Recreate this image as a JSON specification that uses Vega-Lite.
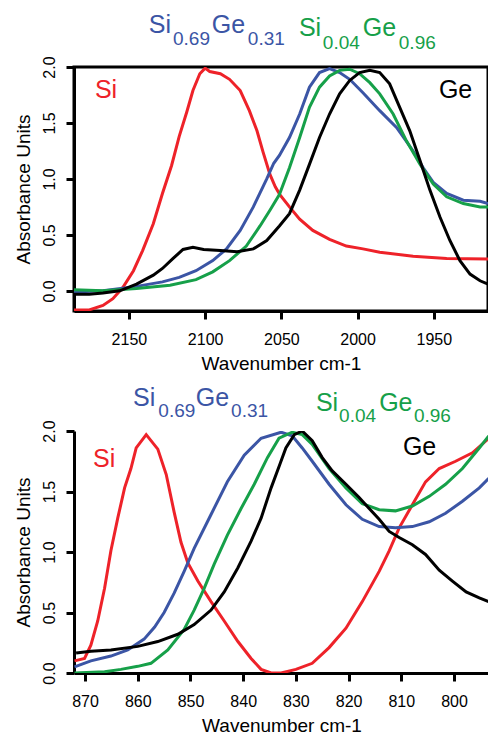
{
  "$schema": "https://vega.github.io/schema/vega-lite/v6.json",
  "padding": {"left": 12, "top": 11, "right": 0, "bottom": 0},
  "spacing": 10,
  "background": "white",
  "config": {
    "view": {"stroke": null},
    "font": "Liberation Sans",
    "axis": {
      "grid": false,
      "domain": true,
      "domainColor": "black",
      "domainWidth": 3,
      "tickColor": "black",
      "tickWidth": 3,
      "tickSize": 8,
      "labelFont": "Liberation Sans",
      "labelFontSize": 16,
      "labelColor": "black",
      "titleFont": "Liberation Sans",
      "titleFontSize": 19,
      "titleFontWeight": "normal",
      "titleColor": "black"
    },
    "axisX": {"labelPadding": 12, "titlePadding": 7},
    "axisY": {"labelAngle": 270, "labelAlign": "center", "labelBaseline": "alphabetic", "labelPadding": 12, "titlePadding": 8}
  },
  "datasets": {
    "top": [
      {"s": "Si", "w": 2186, "a": -0.17}, {"s": "Si", "w": 2176, "a": -0.17}, {"s": "Si", "w": 2167, "a": -0.13}, {"s": "Si", "w": 2160.5, "a": -0.07}, {"s": "Si", "w": 2154, "a": 0.03}, {"s": "Si", "w": 2147, "a": 0.18}, {"s": "Si", "w": 2141, "a": 0.36}, {"s": "Si", "w": 2134, "a": 0.6}, {"s": "Si", "w": 2128, "a": 0.87}, {"s": "Si", "w": 2122, "a": 1.12}, {"s": "Si", "w": 2117, "a": 1.38}, {"s": "Si", "w": 2112, "a": 1.6}, {"s": "Si", "w": 2108, "a": 1.79}, {"s": "Si", "w": 2103.5, "a": 1.94}, {"s": "Si", "w": 2100, "a": 1.99}, {"s": "Si", "w": 2097, "a": 1.96}, {"s": "Si", "w": 2090, "a": 1.94}, {"s": "Si", "w": 2084, "a": 1.89}, {"s": "Si", "w": 2077, "a": 1.79}, {"s": "Si", "w": 2071, "a": 1.61}, {"s": "Si", "w": 2066, "a": 1.43}, {"s": "Si", "w": 2062, "a": 1.24}, {"s": "Si", "w": 2057.5, "a": 1.04}, {"s": "Si", "w": 2054, "a": 0.93}, {"s": "Si", "w": 2051, "a": 0.86}, {"s": "Si", "w": 2044.7, "a": 0.75}, {"s": "Si", "w": 2038, "a": 0.64}, {"s": "Si", "w": 2029.4, "a": 0.54}, {"s": "Si", "w": 2018.4, "a": 0.46}, {"s": "Si", "w": 2007.4, "a": 0.4}, {"s": "Si", "w": 1996.5, "a": 0.375}, {"s": "Si", "w": 1985.5, "a": 0.345}, {"s": "Si", "w": 1963.6, "a": 0.31}, {"s": "Si", "w": 1941.6, "a": 0.29}, {"s": "Si", "w": 1914.5, "a": 0.285},
      {"s": "SiGe69", "w": 2186, "a": -0.01}, {"s": "SiGe69", "w": 2167, "a": 0.0}, {"s": "SiGe69", "w": 2145, "a": 0.04}, {"s": "SiGe69", "w": 2128, "a": 0.08}, {"s": "SiGe69", "w": 2117, "a": 0.12}, {"s": "SiGe69", "w": 2106, "a": 0.18}, {"s": "SiGe69", "w": 2095, "a": 0.27}, {"s": "SiGe69", "w": 2086, "a": 0.375}, {"s": "SiGe69", "w": 2077, "a": 0.54}, {"s": "SiGe69", "w": 2068.4, "a": 0.75}, {"s": "SiGe69", "w": 2059.6, "a": 1.0}, {"s": "SiGe69", "w": 2055, "a": 1.14}, {"s": "SiGe69", "w": 2051.3, "a": 1.21}, {"s": "SiGe69", "w": 2044.7, "a": 1.37}, {"s": "SiGe69", "w": 2038, "a": 1.58}, {"s": "SiGe69", "w": 2031.6, "a": 1.82}, {"s": "SiGe69", "w": 2025, "a": 1.95}, {"s": "SiGe69", "w": 2018.4, "a": 1.985}, {"s": "SiGe69", "w": 2011.8, "a": 1.95}, {"s": "SiGe69", "w": 2005.2, "a": 1.89}, {"s": "SiGe69", "w": 1996.5, "a": 1.77}, {"s": "SiGe69", "w": 1985.5, "a": 1.61}, {"s": "SiGe69", "w": 1974.5, "a": 1.46}, {"s": "SiGe69", "w": 1963.6, "a": 1.25}, {"s": "SiGe69", "w": 1957, "a": 1.1}, {"s": "SiGe69", "w": 1950.4, "a": 0.97}, {"s": "SiGe69", "w": 1941.6, "a": 0.87}, {"s": "SiGe69", "w": 1930.7, "a": 0.81}, {"s": "SiGe69", "w": 1919.7, "a": 0.8}, {"s": "SiGe69", "w": 1914.5, "a": 0.78},
      {"s": "SiGe04", "w": 2186, "a": 0.01}, {"s": "SiGe04", "w": 2167, "a": 0.0}, {"s": "SiGe04", "w": 2145, "a": 0.02}, {"s": "SiGe04", "w": 2123, "a": 0.05}, {"s": "SiGe04", "w": 2106, "a": 0.1}, {"s": "SiGe04", "w": 2095, "a": 0.17}, {"s": "SiGe04", "w": 2084, "a": 0.27}, {"s": "SiGe04", "w": 2073, "a": 0.4}, {"s": "SiGe04", "w": 2064, "a": 0.58}, {"s": "SiGe04", "w": 2057.5, "a": 0.72}, {"s": "SiGe04", "w": 2051.3, "a": 0.86}, {"s": "SiGe04", "w": 2044.7, "a": 1.1}, {"s": "SiGe04", "w": 2038, "a": 1.37}, {"s": "SiGe04", "w": 2031.6, "a": 1.64}, {"s": "SiGe04", "w": 2025, "a": 1.82}, {"s": "SiGe04", "w": 2018.4, "a": 1.92}, {"s": "SiGe04", "w": 2011.8, "a": 1.97}, {"s": "SiGe04", "w": 2005.2, "a": 1.98}, {"s": "SiGe04", "w": 1998.7, "a": 1.94}, {"s": "SiGe04", "w": 1992, "a": 1.86}, {"s": "SiGe04", "w": 1985.5, "a": 1.76}, {"s": "SiGe04", "w": 1976.7, "a": 1.58}, {"s": "SiGe04", "w": 1968, "a": 1.34}, {"s": "SiGe04", "w": 1959, "a": 1.13}, {"s": "SiGe04", "w": 1950.4, "a": 0.955}, {"s": "SiGe04", "w": 1941.6, "a": 0.84}, {"s": "SiGe04", "w": 1930.7, "a": 0.78}, {"s": "SiGe04", "w": 1919.7, "a": 0.75}, {"s": "SiGe04", "w": 1914.5, "a": 0.75},
      {"s": "Ge", "w": 2186, "a": -0.03}, {"s": "Ge", "w": 2176, "a": -0.03}, {"s": "Ge", "w": 2167, "a": -0.02}, {"s": "Ge", "w": 2156, "a": 0.0}, {"s": "Ge", "w": 2145, "a": 0.06}, {"s": "Ge", "w": 2134, "a": 0.14}, {"s": "Ge", "w": 2128, "a": 0.2}, {"s": "Ge", "w": 2121, "a": 0.29}, {"s": "Ge", "w": 2114.5, "a": 0.37}, {"s": "Ge", "w": 2108, "a": 0.39}, {"s": "Ge", "w": 2101, "a": 0.37}, {"s": "Ge", "w": 2090, "a": 0.36}, {"s": "Ge", "w": 2079, "a": 0.35}, {"s": "Ge", "w": 2068.4, "a": 0.375}, {"s": "Ge", "w": 2059.6, "a": 0.45}, {"s": "Ge", "w": 2051.3, "a": 0.58}, {"s": "Ge", "w": 2044.7, "a": 0.69}, {"s": "Ge", "w": 2038, "a": 0.9}, {"s": "Ge", "w": 2031.6, "a": 1.13}, {"s": "Ge", "w": 2025, "a": 1.37}, {"s": "Ge", "w": 2018.4, "a": 1.58}, {"s": "Ge", "w": 2011.8, "a": 1.76}, {"s": "Ge", "w": 2005.2, "a": 1.88}, {"s": "Ge", "w": 1998.7, "a": 1.95}, {"s": "Ge", "w": 1992, "a": 1.97}, {"s": "Ge", "w": 1985.5, "a": 1.95}, {"s": "Ge", "w": 1979, "a": 1.85}, {"s": "Ge", "w": 1972.4, "a": 1.64}, {"s": "Ge", "w": 1965.8, "a": 1.43}, {"s": "Ge", "w": 1959, "a": 1.16}, {"s": "Ge", "w": 1952.6, "a": 0.9}, {"s": "Ge", "w": 1946, "a": 0.66}, {"s": "Ge", "w": 1939.5, "a": 0.45}, {"s": "Ge", "w": 1932.9, "a": 0.27}, {"s": "Ge", "w": 1926.3, "a": 0.15}, {"s": "Ge", "w": 1919.7, "a": 0.09}, {"s": "Ge", "w": 1914.5, "a": 0.06}
    ],
    "topLabels": [
      {"s": "SiGe69", "part": "main", "t": "Si", "w": 2136.9, "a": 2.304},
      {"s": "SiGe69", "part": "sub", "t": "0.69", "w": 2121.1, "a": 2.2},
      {"s": "SiGe69", "part": "main", "t": "Ge", "w": 2095.6, "a": 2.304},
      {"s": "SiGe69", "part": "sub", "t": "0.31", "w": 2072.0, "a": 2.2},
      {"s": "SiGe04", "part": "main", "t": "Si", "w": 2038.5, "a": 2.277},
      {"s": "SiGe04", "part": "sub", "t": "0.04", "w": 2022.8, "a": 2.165},
      {"s": "SiGe04", "part": "main", "t": "Ge", "w": 1996.6, "a": 2.277},
      {"s": "SiGe04", "part": "sub", "t": "0.96", "w": 1973.0, "a": 2.165},
      {"s": "Si", "part": "main", "t": "Si", "w": 2172.3, "a": 1.72},
      {"s": "Ge", "part": "main", "t": "Ge", "w": 1946.7, "a": 1.72}
    ],
    "bottom": [
      {"s": "Si", "w": 872, "a": 0.1}, {"s": "Si", "w": 870.1, "a": 0.12}, {"s": "Si", "w": 868.9, "a": 0.23}, {"s": "Si", "w": 867.6, "a": 0.43}, {"s": "Si", "w": 866.3, "a": 0.7}, {"s": "Si", "w": 865.1, "a": 1.01}, {"s": "Si", "w": 863.8, "a": 1.28}, {"s": "Si", "w": 862.5, "a": 1.53}, {"s": "Si", "w": 861.3, "a": 1.69}, {"s": "Si", "w": 860.3, "a": 1.86}, {"s": "Si", "w": 858.4, "a": 1.97}, {"s": "Si", "w": 856.2, "a": 1.85}, {"s": "Si", "w": 854.6, "a": 1.64}, {"s": "Si", "w": 853.1, "a": 1.33}, {"s": "Si", "w": 851.8, "a": 1.08}, {"s": "Si", "w": 850.5, "a": 0.91}, {"s": "Si", "w": 848.6, "a": 0.76}, {"s": "Si", "w": 846.1, "a": 0.59}, {"s": "Si", "w": 843.6, "a": 0.43}, {"s": "Si", "w": 841.0, "a": 0.26}, {"s": "Si", "w": 838.5, "a": 0.12}, {"s": "Si", "w": 836.6, "a": 0.03}, {"s": "Si", "w": 834.7, "a": 0.0}, {"s": "Si", "w": 832.8, "a": 0.0}, {"s": "Si", "w": 830, "a": 0.03}, {"s": "Si", "w": 826.9, "a": 0.08}, {"s": "Si", "w": 823.7, "a": 0.21}, {"s": "Si", "w": 820.5, "a": 0.37}, {"s": "Si", "w": 817.4, "a": 0.59}, {"s": "Si", "w": 814.2, "a": 0.84}, {"s": "Si", "w": 812.3, "a": 1.01}, {"s": "Si", "w": 810.4, "a": 1.2}, {"s": "Si", "w": 807.9, "a": 1.39}, {"s": "Si", "w": 805.4, "a": 1.58}, {"s": "Si", "w": 802.8, "a": 1.69}, {"s": "Si", "w": 799.7, "a": 1.75}, {"s": "Si", "w": 796.5, "a": 1.82}, {"s": "Si", "w": 793.4, "a": 1.94},
      {"s": "SiGe69", "w": 872, "a": 0.05}, {"s": "SiGe69", "w": 868.9, "a": 0.1}, {"s": "SiGe69", "w": 865.1, "a": 0.14}, {"s": "SiGe69", "w": 861.9, "a": 0.19}, {"s": "SiGe69", "w": 858.8, "a": 0.28}, {"s": "SiGe69", "w": 856.8, "a": 0.38}, {"s": "SiGe69", "w": 855.0, "a": 0.5}, {"s": "SiGe69", "w": 853.1, "a": 0.66}, {"s": "SiGe69", "w": 851.2, "a": 0.84}, {"s": "SiGe69", "w": 849.3, "a": 1.03}, {"s": "SiGe69", "w": 846.1, "a": 1.31}, {"s": "SiGe69", "w": 843.0, "a": 1.58}, {"s": "SiGe69", "w": 839.8, "a": 1.8}, {"s": "SiGe69", "w": 836.6, "a": 1.94}, {"s": "SiGe69", "w": 832.8, "a": 1.99}, {"s": "SiGe69", "w": 830.7, "a": 1.96}, {"s": "SiGe69", "w": 828.8, "a": 1.86}, {"s": "SiGe69", "w": 826.9, "a": 1.75}, {"s": "SiGe69", "w": 823.7, "a": 1.56}, {"s": "SiGe69", "w": 820.5, "a": 1.39}, {"s": "SiGe69", "w": 817.4, "a": 1.27}, {"s": "SiGe69", "w": 814.2, "a": 1.21}, {"s": "SiGe69", "w": 811.1, "a": 1.2}, {"s": "SiGe69", "w": 807.9, "a": 1.21}, {"s": "SiGe69", "w": 804.7, "a": 1.25}, {"s": "SiGe69", "w": 801.6, "a": 1.32}, {"s": "SiGe69", "w": 798.4, "a": 1.42}, {"s": "SiGe69", "w": 795.2, "a": 1.53}, {"s": "SiGe69", "w": 793.4, "a": 1.61},
      {"s": "SiGe04", "w": 872, "a": 0.0}, {"s": "SiGe04", "w": 866.3, "a": 0.01}, {"s": "SiGe04", "w": 863.2, "a": 0.03}, {"s": "SiGe04", "w": 860, "a": 0.055}, {"s": "SiGe04", "w": 857.5, "a": 0.08}, {"s": "SiGe04", "w": 854.3, "a": 0.19}, {"s": "SiGe04", "w": 851.2, "a": 0.36}, {"s": "SiGe04", "w": 849.3, "a": 0.52}, {"s": "SiGe04", "w": 847.4, "a": 0.7}, {"s": "SiGe04", "w": 845.5, "a": 0.9}, {"s": "SiGe04", "w": 843.0, "a": 1.14}, {"s": "SiGe04", "w": 840.4, "a": 1.36}, {"s": "SiGe04", "w": 837.9, "a": 1.56}, {"s": "SiGe04", "w": 835.4, "a": 1.78}, {"s": "SiGe04", "w": 833.2, "a": 1.94}, {"s": "SiGe04", "w": 830.7, "a": 1.99}, {"s": "SiGe04", "w": 828.8, "a": 1.97}, {"s": "SiGe04", "w": 826.9, "a": 1.89}, {"s": "SiGe04", "w": 823.7, "a": 1.69}, {"s": "SiGe04", "w": 820.5, "a": 1.53}, {"s": "SiGe04", "w": 817.4, "a": 1.4}, {"s": "SiGe04", "w": 814.2, "a": 1.35}, {"s": "SiGe04", "w": 811.1, "a": 1.34}, {"s": "SiGe04", "w": 807.9, "a": 1.38}, {"s": "SiGe04", "w": 804.7, "a": 1.46}, {"s": "SiGe04", "w": 801.6, "a": 1.56}, {"s": "SiGe04", "w": 798.4, "a": 1.69}, {"s": "SiGe04", "w": 795.2, "a": 1.86}, {"s": "SiGe04", "w": 793.4, "a": 1.96},
      {"s": "Ge", "w": 871.7, "a": 0.165}, {"s": "Ge", "w": 868.9, "a": 0.18}, {"s": "Ge", "w": 865.1, "a": 0.19}, {"s": "Ge", "w": 860, "a": 0.22}, {"s": "Ge", "w": 856.2, "a": 0.26}, {"s": "Ge", "w": 852.4, "a": 0.32}, {"s": "Ge", "w": 849.3, "a": 0.4}, {"s": "Ge", "w": 846.1, "a": 0.52}, {"s": "Ge", "w": 843.6, "a": 0.67}, {"s": "Ge", "w": 841.0, "a": 0.87}, {"s": "Ge", "w": 838.5, "a": 1.09}, {"s": "Ge", "w": 836.6, "a": 1.28}, {"s": "Ge", "w": 834.7, "a": 1.53}, {"s": "Ge", "w": 833.0, "a": 1.73}, {"s": "Ge", "w": 831.9, "a": 1.86}, {"s": "Ge", "w": 830.3, "a": 1.97}, {"s": "Ge", "w": 828.8, "a": 2.0}, {"s": "Ge", "w": 826.9, "a": 1.92}, {"s": "Ge", "w": 825.0, "a": 1.78}, {"s": "Ge", "w": 823.1, "a": 1.67}, {"s": "Ge", "w": 820.5, "a": 1.56}, {"s": "Ge", "w": 818.0, "a": 1.45}, {"s": "Ge", "w": 816.1, "a": 1.36}, {"s": "Ge", "w": 814.2, "a": 1.27}, {"s": "Ge", "w": 812.3, "a": 1.17}, {"s": "Ge", "w": 810.4, "a": 1.12}, {"s": "Ge", "w": 807.9, "a": 1.06}, {"s": "Ge", "w": 805.4, "a": 0.98}, {"s": "Ge", "w": 802.8, "a": 0.85}, {"s": "Ge", "w": 800.3, "a": 0.76}, {"s": "Ge", "w": 797.7, "a": 0.67}, {"s": "Ge", "w": 795.2, "a": 0.62}, {"s": "Ge", "w": 793.4, "a": 0.59}
    ],
    "bottomLabels": [
      {"s": "SiGe69", "part": "main", "t": "Si", "w": 860.9, "a": 2.207},
      {"s": "SiGe69", "part": "sub", "t": "0.69", "w": 856.1, "a": 2.116},
      {"s": "SiGe69", "part": "main", "t": "Ge", "w": 849.0, "a": 2.207},
      {"s": "SiGe69", "part": "sub", "t": "0.31", "w": 842.3, "a": 2.116},
      {"s": "SiGe04", "part": "main", "t": "Si", "w": 826.2, "a": 2.165},
      {"s": "SiGe04", "part": "sub", "t": "0.04", "w": 821.8, "a": 2.076},
      {"s": "SiGe04", "part": "main", "t": "Ge", "w": 814.2, "a": 2.165},
      {"s": "SiGe04", "part": "sub", "t": "0.96", "w": 807.6, "a": 2.076},
      {"s": "Si", "part": "main", "t": "Si", "w": 868.5, "a": 1.7},
      {"s": "Ge", "part": "main", "t": "Ge", "w": 809.7, "a": 1.8}
    ]
  },
  "vconcat": [
    {
      "width": 414,
      "height": 244,
      "view": {"stroke": "black", "strokeWidth": 3},
      "encoding": {
        "x": {"field": "w", "type": "quantitative", "scale": {"domain": [1914.5, 2186], "reverse": true, "nice": false, "zero": false}, "axis": {"values": [2150, 2100, 2050, 2000, 1950], "format": "d", "title": "Wavenumber cm-1"}},
        "y": {"field": "a", "type": "quantitative", "scale": {"domain": [-0.18, 2.0], "nice": false, "zero": false}, "axis": {"values": [0, 0.5, 1, 1.5, 2], "format": ".1f", "title": "Absorbance Units"}},
        "color": {"field": "s", "type": "nominal", "scale": {"domain": ["Si", "SiGe69", "SiGe04", "Ge"], "range": ["#ee2229", "#3b55a5", "#16a049", "#000000"]}, "legend": null}
      },
      "layer": [
        {"data": {"name": "top"}, "mark": {"type": "line", "strokeWidth": 3, "clip": true}},
        {"data": {"name": "topLabels"}, "transform": [{"filter": "datum.part == 'main'"}], "mark": {"type": "text", "align": "left", "baseline": "alphabetic", "fontSize": 25, "font": "Liberation Sans"}, "encoding": {"text": {"field": "t"}}},
        {"data": {"name": "topLabels"}, "transform": [{"filter": "datum.part == 'sub'"}], "mark": {"type": "text", "align": "left", "baseline": "alphabetic", "fontSize": 19, "font": "Liberation Sans"}, "encoding": {"text": {"field": "t"}}}
      ]
    },
    {
      "width": 415,
      "height": 242,
      "encoding": {
        "x": {"field": "w", "type": "quantitative", "scale": {"domain": [793.36, 872.1], "reverse": true, "nice": false, "zero": false}, "axis": {"values": [870, 860, 850, 840, 830, 820, 810, 800], "format": "d", "title": "Wavenumber cm-1"}},
        "y": {"field": "a", "type": "quantitative", "scale": {"domain": [0, 2.0], "nice": false, "zero": false}, "axis": {"values": [0, 0.5, 1, 1.5, 2], "format": ".1f", "title": "Absorbance Units"}},
        "color": {"field": "s", "type": "nominal", "scale": {"domain": ["Si", "SiGe69", "SiGe04", "Ge"], "range": ["#ee2229", "#3b55a5", "#16a049", "#000000"]}, "legend": null}
      },
      "layer": [
        {"data": {"values": [{"top": 2.0}]}, "mark": {"type": "rule", "strokeWidth": 3, "color": "black"}, "encoding": {"y": {"field": "top", "type": "quantitative"}, "color": {"value": "black"}}},
        {"data": {"name": "bottom"}, "mark": {"type": "line", "strokeWidth": 3, "clip": true}},
        {"data": {"name": "bottomLabels"}, "transform": [{"filter": "datum.part == 'main'"}], "mark": {"type": "text", "align": "left", "baseline": "alphabetic", "fontSize": 25, "font": "Liberation Sans"}, "encoding": {"text": {"field": "t"}}},
        {"data": {"name": "bottomLabels"}, "transform": [{"filter": "datum.part == 'sub'"}], "mark": {"type": "text", "align": "left", "baseline": "alphabetic", "fontSize": 19, "font": "Liberation Sans"}, "encoding": {"text": {"field": "t"}}}
      ]
    }
  ]
}
